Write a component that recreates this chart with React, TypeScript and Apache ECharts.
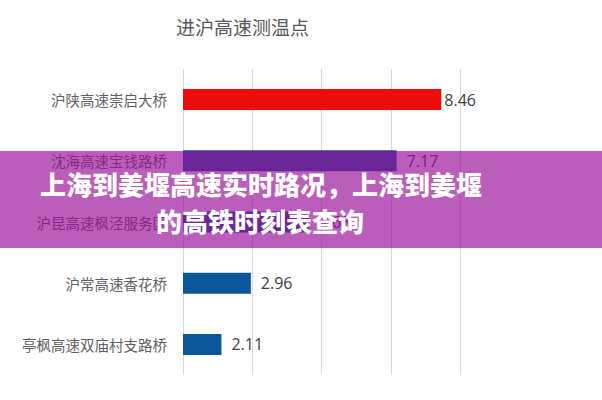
import React, { useEffect, useRef } from "react";
import * as echarts from "echarts";

const categories = [
  "沪陕高速崇启大桥",
  "沈海高速宝钱路桥",
  "沪昆高速枫泾服务区",
  "沪常高速香花桥",
  "亭枫高速双庙村支路桥",
];
const values = [8.46, 7.17, 4.63, 2.96, 2.11];
const barColors = ["#EE0B0B", "#0B5599", "#0B5599", "#0B5599", "#0B5599"];
const chartTitle = "进沪高速测温点";
const bannerLines = ["上海到姜堰高速实时路况，上海到姜堰", "的高铁时刻表查询"];

export default function App() {
  const ref = useRef<HTMLDivElement>(null);
  useEffect(() => {
    document.body.style.margin = "0";
    const chart = echarts.init(ref.current!, null, { renderer: "svg" });
    chart.setOption({
      animation: false,
      backgroundColor: "#ffffff",
      grid: { left: 183, right: 142, top: 69, height: 306, containLabel: false },
      xAxis: {
        type: "value",
        min: 1,
        max: 9,
        interval: 2,
        axisLabel: { show: false },
        axisLine: { show: false },
        axisTick: { show: false },
        splitLine: { show: true, lineStyle: { color: "#d9d9d9", width: 1 } },
      },
      yAxis: {
        type: "category",
        inverse: true,
        data: categories,
        axisLine: { show: false },
        axisTick: { show: false },
        axisLabel: {
          margin: 16,
          fontSize: 14.5,
          color: "#5f5f5f",
          fontFamily: "Noto Sans CJK SC",
        },
      },
      series: [
        {
          type: "bar",
          barWidth: 21,
          data: values.map((v, i) => ({
            value: v,
            itemStyle: { color: barColors[i] },
            label: i === 0 ? { distance: 3 } : undefined,
          })),
          label: {
            show: true,
            position: "right",
            distance: 10,
            fontSize: 16,
            color: "#404040",
            fontFamily: "Open Sans",
          },
        },
      ],
      graphic: [
        {
          type: "text",
          left: 244 - 68,
          top: 17,
          style: {
            text: chartTitle,
            fontSize: 19,
            fill: "#595959",
            fontFamily: "Noto Sans CJK SC",
          },
        },
        {
          type: "rect",
          z: 100,
          shape: { x: 0, y: 151, width: 602, height: 97 },
          style: { fill: "rgba(154,13,152,0.67)" },
        },
        {
          type: "text",
          z: 101,
          x: 261,
          y: 183,
          style: {
            text: bannerLines[0],
            fontSize: 26,
            fontWeight: 900,
            fill: "#ffffff",
            fontFamily: "Noto Sans CJK SC",
            align: "center",
            verticalAlign: "middle",
          },
        },
        {
          type: "text",
          z: 101,
          x: 260,
          y: 220,
          style: {
            text: bannerLines[1],
            fontSize: 26,
            fontWeight: 900,
            fill: "#ffffff",
            fontFamily: "Noto Sans CJK SC",
            align: "center",
            verticalAlign: "middle",
          },
        },
      ],
    });
    return () => chart.dispose();
  }, []);
  return <div ref={ref} style={{ width: 602, height: 400 }} />;
}
